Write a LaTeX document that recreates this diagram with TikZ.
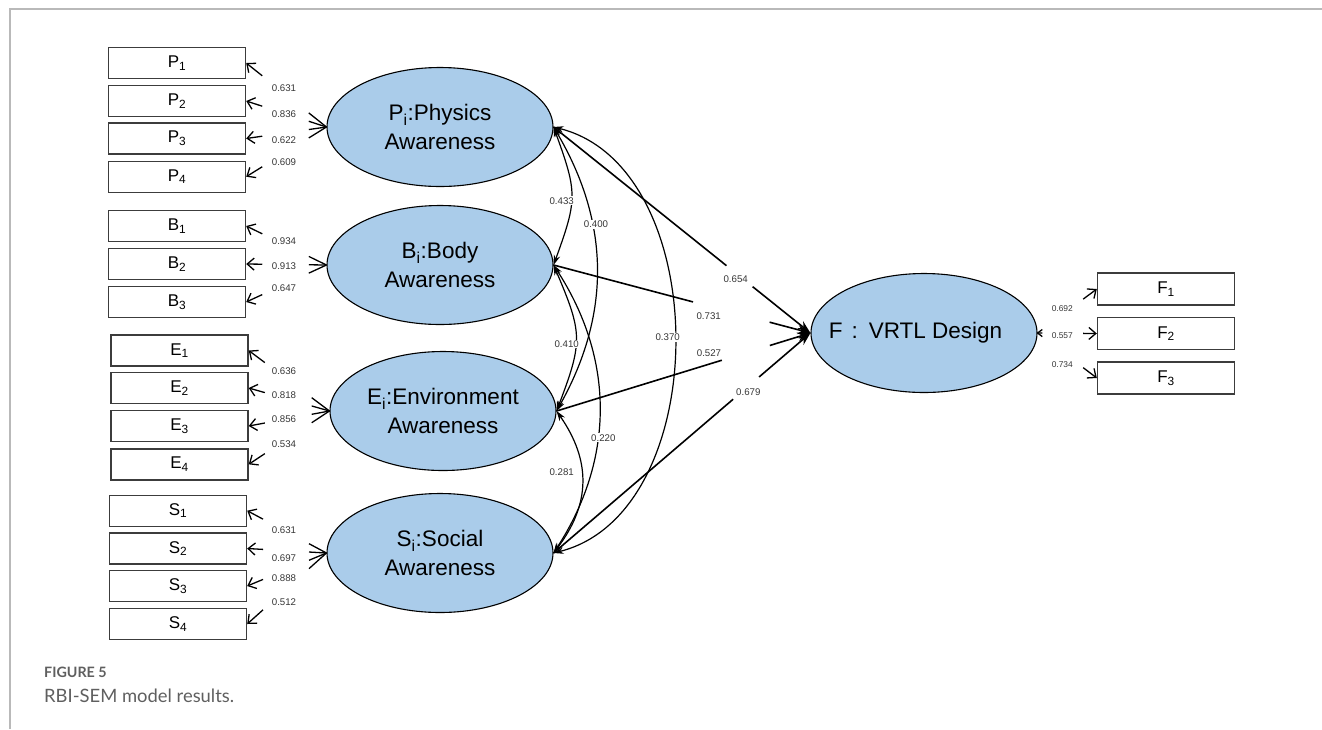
\documentclass[tikz,border=0pt]{standalone}
\usepackage{fontspec}
\setmainfont{Liberation Sans}
\newfontfamily\capfont{Lato}
\usetikzlibrary{arrows.meta,shapes.geometric,calc}
\definecolor{latentblue}{RGB}{170,204,234}
\definecolor{boxgray}{RGB}{60,60,60}
\definecolor{labelgray}{RGB}{55,55,55}
\definecolor{framegray}{RGB}{185,185,185}
\definecolor{capgray}{RGB}{95,95,95}
\begin{document}
\begin{tikzpicture}[x=1pt,y=-1pt,
  latent/.style={ellipse, draw=black, line width=1.1pt, fill=latentblue,
    minimum width=226pt, minimum height=119pt, inner sep=0pt, align=center,
    font=\fontsize{22.5}{28.4}\selectfont},
  obs/.style={rectangle, draw=boxgray, line width=1.4pt, fill=white,
    minimum width=137pt, minimum height=31pt, inner sep=0pt,
    font=\fontsize{17}{20}\selectfont},
  load/.style={line width=1.3pt},
  loadtip/.style={-{Straight Barb[length=7pt,width=12pt]}},
  coef/.style={font=\fontsize{9.7}{11}\selectfont, text=labelgray, inner sep=1pt, fill=white},
  fcoef/.style={font=\fontsize{8.4}{10}\selectfont, text=labelgray, inner sep=1pt, fill=white},
  regr/.style={line width=1.6pt},
  regrtip/.style={-{Stealth[length=13pt,width=9pt]}},
  corr/.style={line width=1.2pt, {Stealth[length=10pt,width=6.5pt]}-{Stealth[length=10pt,width=6.5pt]}},
]
\useasboundingbox (0,0) rectangle (1322,729);

% page frame
\draw[framegray, line width=1.8pt] (10,729) -- (10,9) -- (1322,9);

% latent variables
\node[latent] (LP) at (440,127) {P\textsubscript{i}:Physics\\Awareness};
\node[latent] (LB) at (440,265) {B\textsubscript{i}:Body\\Awareness};
\node[latent] (LE) at (443,411) {E\textsubscript{i}:Environment\\Awareness};
\node[latent] (LS) at (440,553) {S\textsubscript{i}:Social\\Awareness};
\node[latent] (LF) at (924,333) {};
\node[inner sep=0pt, font=\fontsize{22.5}{28.4}\selectfont] (LFtext) at (915.5,333)
  {F\hspace{9pt}:\hspace{11pt}VRTL Design};

% observed indicators
\node[obs] (P1) at (177,63) {P\textsubscript{1}};
\node[obs] (P2) at (177,101) {P\textsubscript{2}};
\node[obs] (P3) at (177,138.5) {P\textsubscript{3}};
\node[obs] (P4) at (177,176.7) {P\textsubscript{4}};
\node[obs] (B1) at (177,226) {B\textsubscript{1}};
\node[obs] (B2) at (177,264) {B\textsubscript{2}};
\node[obs] (B3) at (177,302) {B\textsubscript{3}};
\node[obs] (E1) at (179.5,350.5) {E\textsubscript{1}};
\node[obs] (E2) at (179.5,388) {E\textsubscript{2}};
\node[obs] (E3) at (179.5,426) {E\textsubscript{3}};
\node[obs] (E4) at (179.5,464.3) {E\textsubscript{4}};
\node[obs] (S1) at (178,510.7) {S\textsubscript{1}};
\node[obs] (S2) at (178,548.5) {S\textsubscript{2}};
\node[obs] (S3) at (178,586) {S\textsubscript{3}};
\node[obs] (S4) at (178,624) {S\textsubscript{4}};
\node[obs, minimum height=32pt] (F1) at (1166,289) {F\textsubscript{1}};
\node[obs, minimum height=32pt] (F2) at (1166,333.5) {F\textsubscript{2}};
\node[obs, minimum height=32pt] (F3) at (1166,378) {F\textsubscript{3}};

% loadings: only both ends of each line are shown
\foreach \lat/\ind in {LP/P1,LP/P2,LP/P3,LP/P4,LB/B1,LB/B2,LB/B3,
                       LE/E1,LE/E2,LE/E3,LE/E4,LS/S1,LS/S2,LS/S3,LS/S4}{
  \draw[load] (\lat.west) -- ($(\lat.west)!0.22!(\ind.east)$);
  \draw[load,loadtip] ($(\lat.west)!0.8!(\ind.east)$) -- (\ind.east);
}
\foreach \ind in {F1,F2,F3}{
  \draw[load] (LF.east) -- ($(LF.east)!0.08!(\ind.west)$);
  \draw[load,loadtip] ($(LF.east)!0.77!(\ind.west)$) -- (\ind.west);
}

% correlations between the awareness factors
\draw[corr] (LP.east) to[bend left=20, looseness=1.3] (LB.east);
\draw[corr] (LP.east) to[bend left=30] (LE.east);
\draw[corr] (LP.east) to[bend left=76] (LS.east);
\draw[corr] (LB.east) to[bend left=22, looseness=1.3] (LE.east);
\draw[corr] (LB.east) to[bend left=33] (LS.east);
\draw[corr] (LE.east) to[bend left=36, looseness=1.1] (LS.east);

% paths into F
\draw[regr] (LP.east) -- ($(LP.east)!0.673!(LF.west)$);
\draw[regr,regrtip] ($(LP.east)!0.775!(LF.west)$) -- (LF.west);
\draw[regr] (LB.east) -- ($(LB.east)!0.543!(LF.west)$);
\draw[regr,regrtip] ($(LB.east)!0.841!(LF.west)$) -- (LF.west);
\draw[regr] (LE.east) -- ($(LE.east)!0.651!(LF.west)$);
\draw[regr,regrtip] ($(LE.east)!0.84!(LF.west)$) -- (LF.west);
\draw[regr] (LS.east) -- ($(LS.east)!0.699!(LF.west)$);
\draw[regr,regrtip] ($(LS.east)!0.80!(LF.west)$) -- (LF.west);

% loading coefficients
\node[coef] (cP1) at (284,87.7) {0.631};
\node[coef] (cP2) at (284,114) {0.836};
\node[coef] (cP3) at (284,140) {0.622};
\node[coef] (cP4) at (284,161.7) {0.609};
\node[coef] (cB1) at (284,240.7) {0.934};
\node[coef] (cB2) at (284,266.3) {0.913};
\node[coef] (cB3) at (284,287.7) {0.647};
\node[coef] (cE1) at (284,371) {0.636};
\node[coef] (cE2) at (284,395) {0.818};
\node[coef] (cE3) at (284,419.3) {0.856};
\node[coef] (cE4) at (284,443.7) {0.534};
\node[coef] (cS1) at (284,530.3) {0.631};
\node[coef] (cS2) at (284,558) {0.697};
\node[coef] (cS3) at (284,578.3) {0.888};
\node[coef] (cS4) at (284,601.7) {0.512};
\node[fcoef] (cF1) at (1062.3,309) {0.692};
\node[fcoef] (cF2) at (1062.3,336) {0.557};
\node[fcoef] (cF3) at (1062.3,365) {0.734};

% correlation coefficients
\node[coef] (rPB) at (561.7,200.7) {0.433};
\node[coef] (rPE) at (596,224.3) {0.400};
\node[coef] (rPS) at (667.7,337.3) {0.370};
\node[coef] (rBE) at (566.7,344) {0.410};
\node[coef] (rBS) at (603.3,437.7) {0.220};
\node[coef] (rES) at (561.7,472.3) {0.281};

% path coefficients
\node[coef] (gP) at (735.7,279.3) {0.654};
\node[coef] (gB) at (708.7,315.7) {0.731};
\node[coef] (gE) at (709,353.3) {0.527};
\node[coef] (gS) at (748.3,392.3) {0.679};

% caption
\node[anchor=base west, inner sep=0pt, text=capgray, font=\capfont\bfseries\fontsize{14.3}{17}\selectfont] (figno) at (44,677.5) {FIGURE 5};
\node[anchor=base west, inner sep=0pt, text=capgray, font=\capfont\fontsize{18.4}{22}\selectfont] (figcap) at (44,702.5) {RBI-SEM model results.};
\end{tikzpicture}
\end{document}
